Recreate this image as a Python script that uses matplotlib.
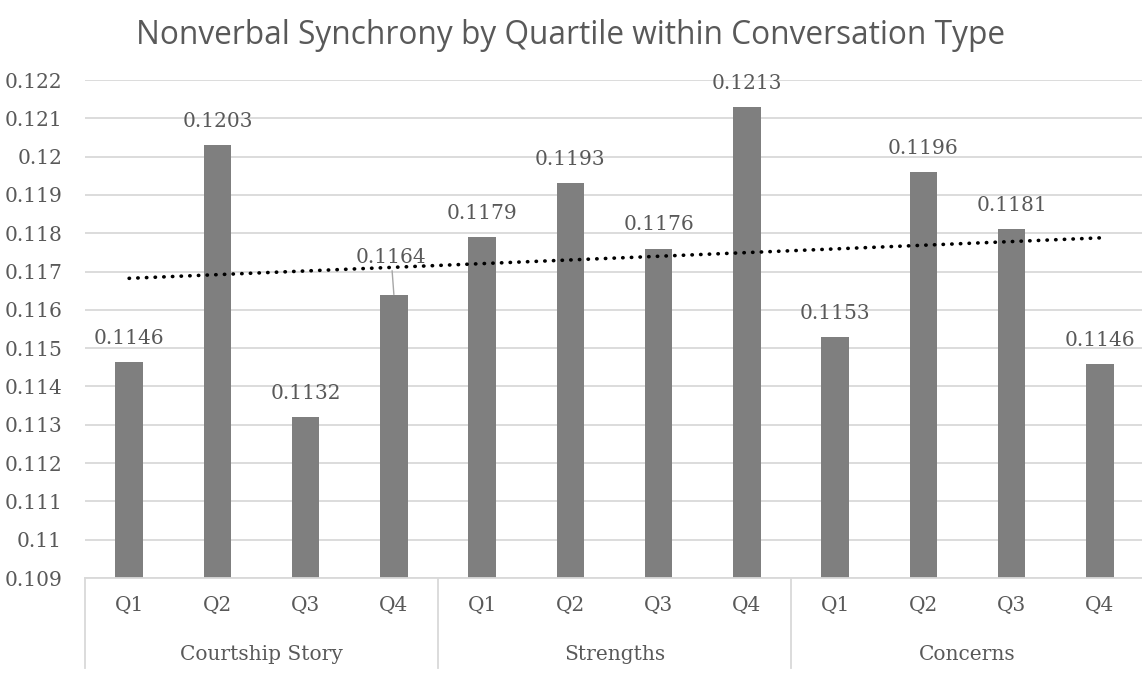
import numpy as np
import matplotlib.pyplot as plt
from matplotlib.transforms import blended_transform_factory

groups = ["Courtship Story", "Strengths", "Concerns"]
quartiles = ["Q1", "Q2", "Q3", "Q4"]
values = [0.11463, 0.1203, 0.1132, 0.1164,
          0.1179, 0.1193, 0.1176, 0.1213,
          0.1153, 0.1196, 0.1181, 0.11458]

txt = '#595959'
grid = '#d9d9d9'
serif = 'DejaVu Serif'
fs = 14.5

fig = plt.figure(figsize=(11.42, 6.77), dpi=100)
ax = fig.add_axes([85/1142, 1-578/677, 1059/1142, 498/677])

x = np.arange(len(values))
ax.bar(x, values, width=0.31, color='#7f7f7f', zorder=2)

# linear trendline
k, b = np.polyfit(x, values, 1)
ax.plot(x, k*x+b, color='black', lw=2.6, linestyle=(0, (0.1, 2.3)),
        dash_capstyle='round', zorder=3)

ax.set_ylim(0.109, 0.122)
ax.set_xlim(-0.5, len(values)-0.5)
ax.set_yticks(np.arange(0.109, 0.12201, 0.001))
ax.set_yticklabels(['%g' % round(t, 3) for t in ax.get_yticks()],
                   family=serif, fontsize=fs, color=txt)
ax.yaxis.grid(True, color=grid, lw=1.3, zorder=0)
ax.tick_params(axis='y', length=0, pad=16.5)
ax.tick_params(axis='x', length=0, pad=13)
ax.set_xticks(x)
ax.set_xticklabels(quartiles*len(groups), family=serif, fontsize=fs, color=txt)
for s in ['top', 'right', 'left']:
    ax.spines[s].set_visible(False)
ax.spines['bottom'].set_color(grid)
ax.spines['bottom'].set_linewidth(1.3)

# data labels
for i, v in enumerate(values):
    if i == 3:
        ax.annotate('%.4f' % v, (i, v), xytext=(-2, 27), textcoords='offset points',
                    ha='center', va='center', family=serif, fontsize=fs, color=txt,
                    arrowprops=dict(arrowstyle='-', color='#a6a6a6', lw=1,
                                    shrinkA=1, shrinkB=0), zorder=4)
    else:
        ax.annotate('%.4f' % v, (i, v), xytext=(0, 17), textcoords='offset points',
                    ha='center', va='center', family=serif, fontsize=fs, color=txt)

# group axis
tr = blended_transform_factory(ax.transData, ax.transAxes)
for g in range(len(groups)+1):
    ax.plot([g*4-0.5, g*4-0.5], [0, -90/498], transform=tr, color=grid,
            lw=1.3, clip_on=False)
for g, name in enumerate(groups):
    ax.text(g*4+1.5, -77/498, name, transform=tr, ha='center', va='center',
            family=serif, fontsize=fs, color=txt)

fig.text(0.5, 1-35/677, "Nonverbal Synchrony by Quartile within Conversation Type",
         ha='center', va='center', family='Open Sans', fontsize=22.8, color=txt)

fig.savefig('out.png', dpi=100)
